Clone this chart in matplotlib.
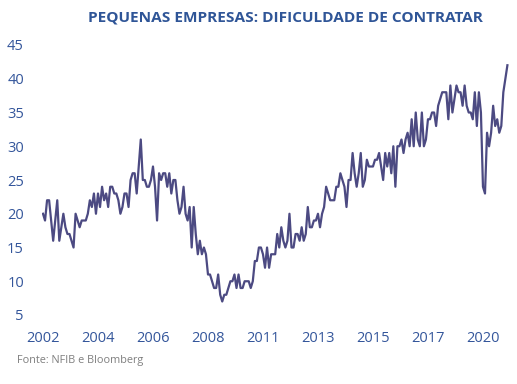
import matplotlib
matplotlib.use("Agg")
import matplotlib.pyplot as plt

# Monthly values, Jan 2002 onwards
values = [
    20, 19, 22, 22, 19, 16, 19, 22, 16, 18, 20, 18,
    17, 17, 16, 15, 20, 19, 18, 19, 19, 19, 20, 22,
    21, 23, 20, 23, 21, 24, 22, 23, 21, 24, 24, 23,
    23, 22, 20, 21, 23, 23, 21, 25, 26, 26, 23, 27,
    31, 25, 25, 24, 24, 25, 27, 24, 19, 26, 25, 26,
    26, 24, 26, 23, 25, 25, 22, 20, 21, 24, 20, 19,
    21, 15, 21, 17, 14, 16, 14, 15, 14, 11, 11, 10,
    9, 9, 11, 8, 7, 8, 8, 9, 10, 10, 11, 9,
    11, 9, 9, 10, 10, 10, 9, 10, 13, 13, 15, 15,
    14, 12, 15, 12, 14, 14, 14, 17, 15, 18, 16, 15,
    16, 20, 15, 15, 17, 17, 16, 18, 16, 17, 21, 18,
    18, 19, 19, 20, 18, 20, 21, 24, 23, 22, 22, 22,
    24, 24, 26, 25, 24, 21, 25, 25, 29, 26, 24, 26,
    29, 24, 25, 28, 27, 27, 27, 28, 28, 29, 27, 25,
    29, 27, 29, 26, 30, 24, 30, 30, 31, 29, 31, 32,
    30, 34, 30, 35, 31, 30, 35, 30, 31, 34, 34, 35,
    35, 33, 36, 37, 38, 38, 38, 34, 39, 35, 37, 39,
    38, 38, 36, 39, 36, 35, 35, 34, 38, 33, 38, 35,
    24, 23, 32, 30, 32, 36, 33, 34, 32, 33, 38, 40, 42,
]
tick_index = [0, 27, 54, 81, 108, 135, 162, 189, 216]
tick_labels = ["2002", "2004", "2006", "2008", "2011", "2013", "2015", "2017", "2020"]
y_ticks = [5, 10, 15, 20, 25, 30, 35, 40, 45]

title = "PEQUENAS EMPRESAS: DIFICULDADE DE CONTRATAR"
source = "Fonte: NFIB e Bloomberg"

W, H = 517, 384
fig = plt.figure(figsize=(W / 100, H / 100), dpi=100)
fig.patch.set_facecolor("white")

ax = fig.add_axes([41.98 / W, 62.25 / H, 469.5 / W, 283.5 / H])
ax.plot(range(len(values)), values, color="#4C4A82", linewidth=1.6,
        solid_joinstyle="round")
ax.set_xlim(-0.5, 230)
ax.set_ylim(4, 46)

ax.set_xticks(tick_index)
ax.set_xticklabels(tick_labels)
ax.set_yticks(y_ticks)
ax.set_yticklabels([str(v) for v in y_ticks])
label_color = "#34569B"
ax.tick_params(axis="both", length=0, colors=label_color, labelsize=10.5)
ax.tick_params(axis="x", pad=7)
ax.tick_params(axis="y", pad=13)
for lab in ax.get_xticklabels() + ax.get_yticklabels():
    lab.set_family("Open Sans")
for s in ax.spines.values():
    s.set_visible(False)

fig.text(285 / W, 1 - 18 / H, title, ha="center", va="center",
         fontsize=11.1, fontweight="bold", color="#2F5597", family="Open Sans")
fig.text(17 / W, 1 - 361 / H, source, ha="left", va="center",
         fontsize=7.8, color="#7F7F7F", family="Open Sans")

fig.savefig("out.png", dpi=100, facecolor="white")
